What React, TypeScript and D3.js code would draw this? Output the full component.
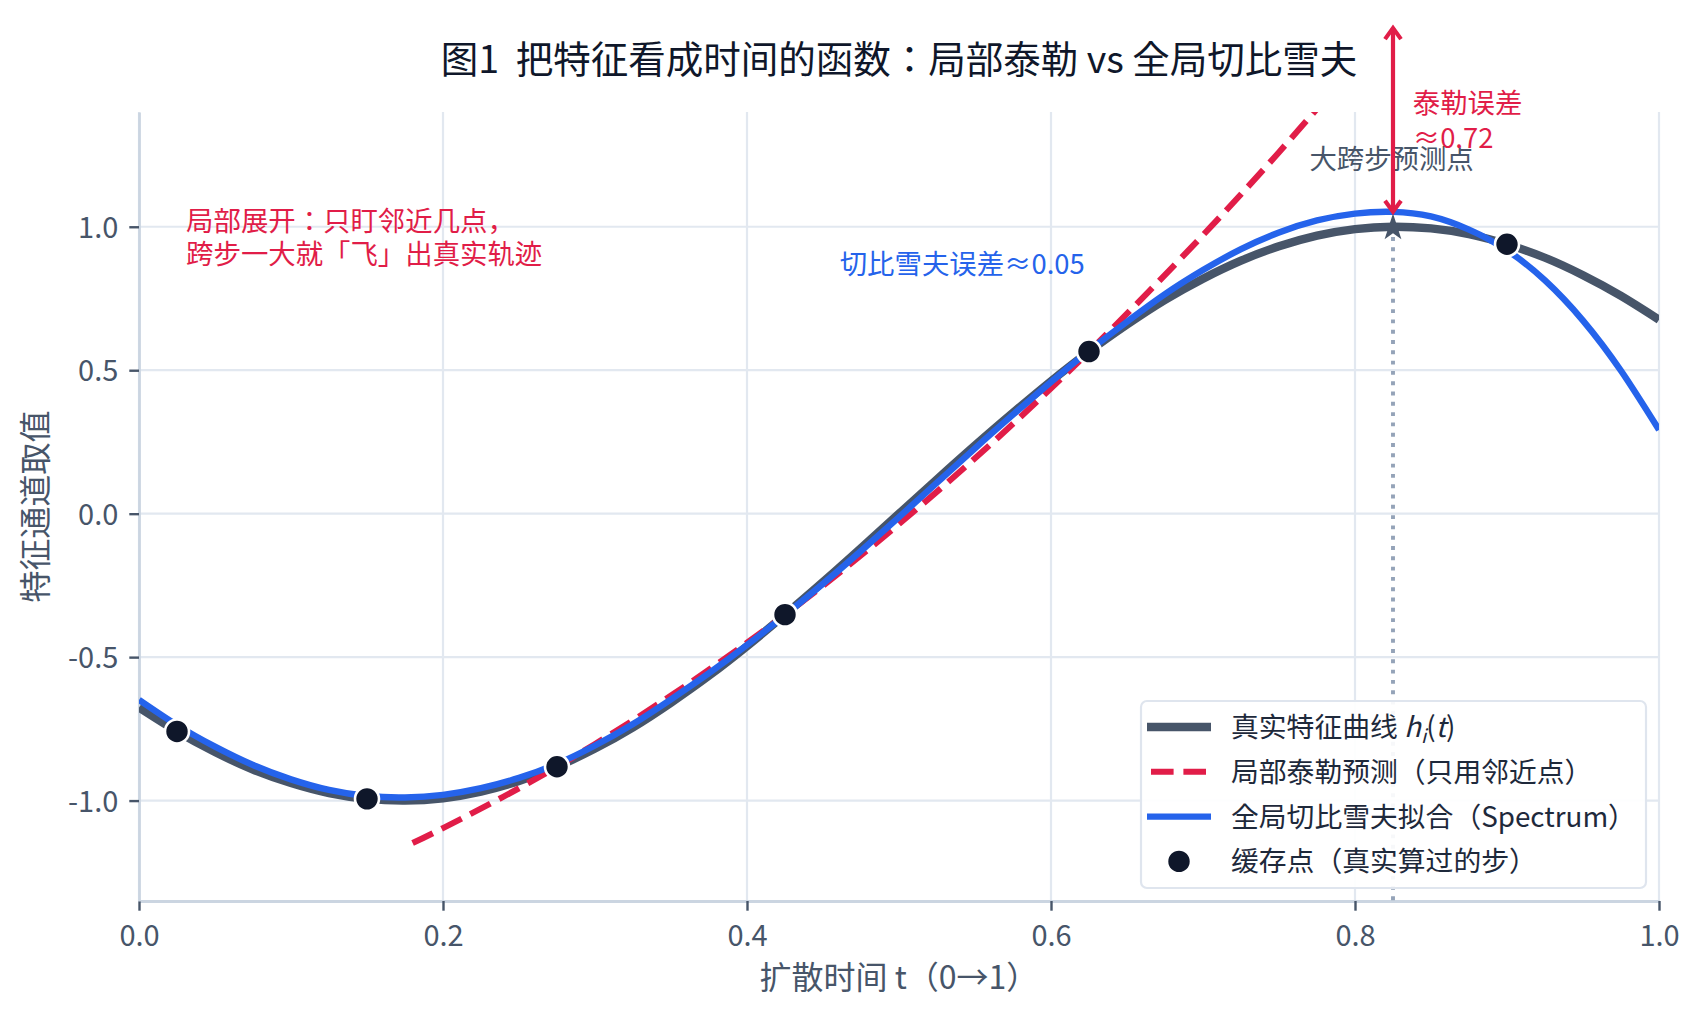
import React, { useEffect, useRef } from "react";
import * as d3 from "d3";

// 时间网格 t 与各曲线取值
const tGrid = [
  0, 0.025, 0.05, 0.075, 0.1, 0.125, 0.15, 0.175, 0.2, 0.225,
  0.25, 0.275, 0.3, 0.325, 0.35, 0.375, 0.4, 0.425, 0.45, 0.475,
  0.5, 0.525, 0.55, 0.575, 0.6, 0.625, 0.65, 0.675, 0.7, 0.725,
  0.75, 0.775, 0.8, 0.825, 0.85, 0.875, 0.9, 0.925, 0.95, 0.975, 1.0,
];
const trueCurve = [
  -0.676, -0.759, -0.831, -0.892, -0.939, -0.974, -0.994, -1.0, -0.992, -0.969,
  -0.932, -0.882, -0.819, -0.745, -0.659, -0.565, -0.462, -0.352, -0.238, -0.12,
  0.0, 0.12, 0.238, 0.352, 0.462, 0.565, 0.659, 0.745, 0.819, 0.882,
  0.932, 0.969, 0.992, 1.0, 0.994, 0.974, 0.939, 0.892, 0.831, 0.759, 0.676,
];
const chebFit = [
  -0.649, -0.737, -0.812, -0.876, -0.926, -0.963, -0.984, -0.989, -0.98, -0.957,
  -0.921, -0.872, -0.808, -0.733, -0.647, -0.556, -0.458, -0.353, -0.244, -0.13,
  -0.012, 0.108, 0.228, 0.345, 0.459, 0.568, 0.669, 0.765, 0.849, 0.922,
  0.98, 1.022, 1.046, 1.052, 1.036, 0.99, 0.918, 0.813, 0.673, 0.498, 0.292,
];
const taylorT = [0.18, 0.2, 0.25, 0.3, 0.35, 0.4, 0.45, 0.5, 0.55, 0.6, 0.65, 0.7, 0.75, 0.8, 0.825];
const taylorH = [-1.148, -1.096, -0.957, -0.803, -0.634, -0.45, -0.251, -0.036, 0.193, 0.437, 0.697, 0.971, 1.26, 1.565, 1.722];
const cacheT = [0.025, 0.15, 0.275, 0.425, 0.625, 0.9];
const cacheH = [-0.759, -0.994, -0.882, -0.352, 0.565, 0.939];

const jumpT = 0.825;
const jumpTrue = 1.0;
const jumpTaylor = 1.722;

const xTicks = [0, 0.2, 0.4, 0.6, 0.8, 1.0];
const yTicks = [-1.0, -0.5, 0.0, 0.5, 1.0];
const xDomain = [0, 1];
const yDomain = [-1.35, 1.4];

const legendLabels = ["真实特征曲线", "局部泰勒预测（只用邻近点）", "全局切比雪夫拟合（Spectrum）", "缓存点（真实算过的步）"];

const font = "'Noto Sans CJK JP', 'Noto Sans CJK SC', 'Noto Sans', sans-serif";
const W = 1699;
const H = 1018;

const App = () => {
  const svgRef = useRef<SVGSVGElement>(null);

  useEffect(() => {
    const svg = d3.select(svgRef.current);
    svg.selectAll("*").remove();

    const x = d3.scaleLinear().domain(xDomain).range([139, 1659]);
    const y = d3.scaleLinear().domain(yDomain).range([901, 112]);

    // 网格
    const grid = svg.append("g");
    grid.selectAll(".vx").data(xTicks).join("line")
      .attr("x1", d => x(d)).attr("x2", d => x(d))
      .attr("y1", y(yDomain[1])).attr("y2", y(yDomain[0]))
      .attr("stroke", "#e2e8f0").attr("stroke-width", 2.2);
    grid.selectAll(".hy").data(yTicks).join("line")
      .attr("y1", d => y(d)).attr("y2", d => y(d))
      .attr("x1", x(0)).attr("x2", x(1))
      .attr("stroke", "#e2e8f0").attr("stroke-width", 2.2);

    // 坐标轴
    const gx = svg.append("g")
      .attr("transform", `translate(0,${y(yDomain[0])})`)
      .call(d3.axisBottom(x).tickValues(xTicks).tickFormat(d => (+d).toFixed(1))
        .tickSize(9.7).tickSizeOuter(0).tickPadding(14.5));
    const gy = svg.append("g")
      .attr("transform", `translate(${x(0)},0)`)
      .call(d3.axisLeft(y).tickValues(yTicks).tickFormat(d => (+d).toFixed(1))
        .tickSize(9.7).tickSizeOuter(0).tickPadding(11));
    [gx, gy].forEach(g => {
      g.attr("font-size", 29).attr("font-family", font).attr("color", "#475569");
      g.select(".domain").attr("stroke", "#cbd5e1").attr("stroke-width", 2.8);
      g.selectAll(".tick line").attr("stroke-width", 2.4);
    });
    gy.selectAll(".tick text").attr("dy", "0.36em");

    // 曲线
    svg.append("defs").append("clipPath").attr("id", "plotClip")
      .append("rect").attr("x", x(0)).attr("y", y(yDomain[1]))
      .attr("width", x(1) - x(0)).attr("height", y(yDomain[0]) - y(yDomain[1]));

    const line = d3.line<[number, number]>()
      .x(d => x(d[0])).y(d => y(d[1])).curve(d3.curveNatural);

    const plot = svg.append("g").attr("clip-path", "url(#plotClip)");
    plot.append("path")
      .attr("d", line(tGrid.map((t, i) => [t, trueCurve[i]])))
      .attr("fill", "none").attr("stroke", "#475569").attr("stroke-width", 8.3);
    plot.append("path")
      .attr("d", line(taylorT.map((t, i) => [t, taylorH[i]])))
      .attr("fill", "none").attr("stroke", "#e11d48").attr("stroke-width", 6.1)
      .attr("stroke-dasharray", "22.6 9.8");
    plot.append("path")
      .attr("d", line(tGrid.map((t, i) => [t, chebFit[i]])))
      .attr("fill", "none").attr("stroke", "#2563eb").attr("stroke-width", 6.4);

    // 大跨步预测点
    plot.append("line")
      .attr("x1", x(jumpT)).attr("x2", x(jumpT))
      .attr("y1", y(jumpTrue)).attr("y2", y(yDomain[0]))
      .attr("stroke", "#94a3b8").attr("stroke-width", 3.9)
      .attr("stroke-dasharray", "3.9 6.4");
    plot.append("path")
      .attr("d", d3.symbol(d3.symbolStar, 230)())
      .attr("transform", `translate(${x(jumpT)},${y(jumpTrue) + 1})`)
      .attr("fill", "#475569");

    plot.selectAll(".dot").data(cacheT).join("circle")
      .attr("cx", d => x(d)).attr("cy", (d, i) => y(cacheH[i]))
      .attr("r", 12).attr("fill", "#0f172a")
      .attr("stroke", "#fff").attr("stroke-width", 2.6);

    // 注释文字
    const txt = (tx: number, ty: number, s: string, color: string, size = 27.4) =>
      svg.append("text").attr("x", tx).attr("y", ty).text(s)
        .attr("fill", color).attr("font-size", size).attr("font-family", font);

    txt(x(0.031), y(0.985), "局部展开：只盯邻近几点，", "#e11d48");
    txt(x(0.031), y(0.985) + 33, "跨步一大就「飞」出真实轨迹", "#e11d48");
    txt(x(0.461), y(0.834), "切比雪夫误差≈0.05", "#2563eb");
    txt(x(0.77), y(1.203), "大跨步预测点", "#475569");
    txt(x(0.838), y(1.395), "泰勒误差", "#e11d48");
    txt(x(0.838), y(1.395) + 35, "≈0.72", "#e11d48");

    // 双向箭头
    const ax = x(jumpT);
    const aTop = y(jumpTaylor) + 8.5;
    const aBot = y(jumpTrue) - 15;
    const arrow = svg.append("g").attr("stroke", "#e11d48").attr("stroke-width", 4.2).attr("fill", "none");
    arrow.append("line").attr("x1", ax).attr("x2", ax).attr("y1", aTop).attr("y2", aBot);
    arrow.append("path").attr("d", `M${ax - 8},${aTop + 11}L${ax},${aTop}L${ax + 8},${aTop + 11}`);
    arrow.append("path").attr("d", `M${ax - 8},${aBot - 11}L${ax},${aBot}L${ax + 8},${aBot - 11}`);

    // 标题与轴标题
    svg.append("text").attr("x", (x(0) + x(1)) / 2).attr("y", 73)
      .attr("text-anchor", "middle").style("white-space", "pre")
      .attr("font-size", 37.5).attr("font-family", font).attr("fill", "#0f172a")
      .text("图1  把特征看成时间的函数：局部泰勒 vs 全局切比雪夫");
    svg.append("text").attr("x", (x(0) + x(1)) / 2).attr("y", 989)
      .attr("text-anchor", "middle")
      .attr("font-size", 32).attr("font-family", font).attr("fill", "#475569")
      .text("扩散时间 t（0→1）");
    svg.append("text")
      .attr("transform", `translate(47,${(y(yDomain[0]) + y(yDomain[1])) / 2}) rotate(-90)`)
      .attr("text-anchor", "middle")
      .attr("font-size", 32).attr("font-family", font).attr("fill", "#475569")
      .text("特征通道取值");

    // 图例
    const lg = svg.append("g").attr("transform", "translate(1141,701)");
    lg.append("rect").attr("width", 505).attr("height", 187).attr("rx", 6)
      .attr("fill", "#fff").attr("fill-opacity", 0.92)
      .attr("stroke", "#dfe5ee").attr("stroke-width", 2.2);
    const rowY = (i: number) => 26 + i * 44.8;
    const hx0 = 6;
    const hx1 = 70;
    lg.append("line").attr("x1", hx0).attr("x2", hx1).attr("y1", rowY(0)).attr("y2", rowY(0))
      .attr("stroke", "#475569").attr("stroke-width", 8.3);
    lg.append("line").attr("x1", hx0 + 4).attr("x2", hx1).attr("y1", rowY(1)).attr("y2", rowY(1))
      .attr("stroke", "#e11d48").attr("stroke-width", 6.1).attr("stroke-dasharray", "22.6 9.8");
    lg.append("line").attr("x1", hx0).attr("x2", hx1).attr("y1", rowY(2)).attr("y2", rowY(2))
      .attr("stroke", "#2563eb").attr("stroke-width", 6.4);
    lg.append("circle").attr("cx", (hx0 + hx1) / 2).attr("cy", rowY(3)).attr("r", 12)
      .attr("fill", "#0f172a").attr("stroke", "#fff").attr("stroke-width", 2.6);

    legendLabels.forEach((label, i) => {
      const t = lg.append("text").attr("x", 90).attr("y", rowY(i) + 10)
        .attr("font-size", 27.8).attr("font-family", font).attr("fill", "#1e293b");
      t.append("tspan").text(label);
      if (i === 0) {
        t.append("tspan").text(" ");
        t.append("tspan").text("h").attr("font-style", "italic");
        t.append("tspan").text("i").attr("font-style", "italic").attr("font-size", 19).attr("dy", 6);
        t.append("tspan").text("(").attr("dy", -6);
        t.append("tspan").text("t").attr("font-style", "italic");
        t.append("tspan").text(")");
      }
    });
  }, []);

  return (
    <div>
      <svg ref={svgRef} width={W} height={H}
        style={{ position: "absolute", left: 0, top: 0, background: "#fff" }} />
    </div>
  );
};

export default App;
